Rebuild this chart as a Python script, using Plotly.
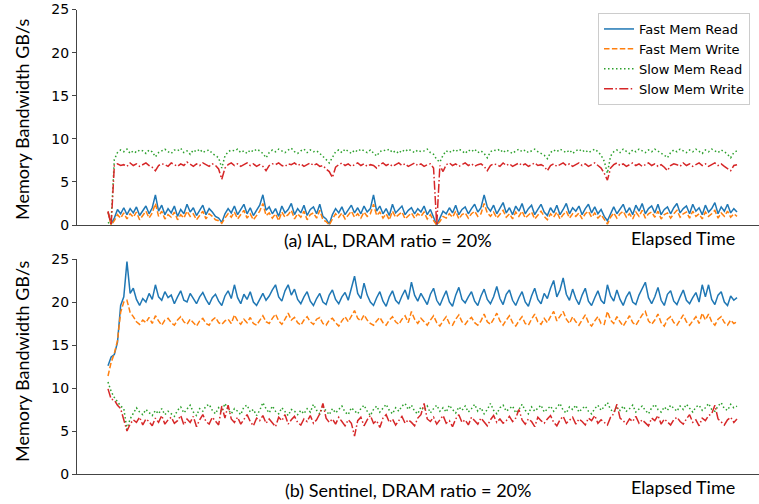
import plotly.graph_objects as go

# ---------------- data ----------------
series_names = ["Fast Mem Read", "Fast Mem Write", "Slow Mem Read", "Slow Mem Write"]
y_ticks = [0, 5, 10, 15, 20, 25]
top_label = "(a) IAL, DRAM ratio = 20%"
bottom_label = "(b) Sentinel, DRAM ratio = 20%"
x_label = "Elapsed Time"
y_label = "Memory Bandwidth GB/s"

# (a) IAL
ial_fast_read = [
    1.5, 0.1, 0.8, 1.8, 1.3, 2.0, 1.2, 1.9, 1.4, 2.1, 1.1, 1.7, 2.2, 1.3, 2.0, 3.5, 1.6, 2.3, 1.2, 1.9,
    1.4, 2.2, 1.0, 1.8, 1.3, 2.4, 1.5, 2.0, 1.1, 1.7, 2.3, 1.2, 1.9, 1.5, 1.0, 0.8, 0.3, 1.3, 1.9, 1.4,
    2.2, 1.2, 1.8, 2.4, 1.3, 2.0, 1.1, 1.7, 2.3, 3.5, 1.7, 2.1, 1.3, 1.9, 1.0, 2.2, 1.4, 1.8, 2.5, 1.2,
    1.9, 1.4, 2.3, 1.1, 1.8, 2.1, 1.3, 2.4, 1.0, 0.7, 0.1, 1.2, 1.9, 1.4, 2.1, 1.2, 1.8, 2.3, 1.4, 2.0,
    1.3, 2.2, 1.5, 1.9, 3.5, 1.6, 2.2, 1.3, 1.9, 1.1, 2.4, 1.4, 1.8, 2.2, 1.2, 1.7, 2.0, 1.3, 1.9, 1.5,
    2.2, 1.2, 1.8, 0.9, 0.0, 0.8, 1.6, 1.3, 2.0, 1.4, 2.3, 1.2, 1.8, 2.1, 1.3, 1.9, 2.4, 1.5, 2.0, 3.5,
    2.1, 1.6, 2.3, 1.3, 1.9, 2.6, 1.4, 2.0, 1.2, 2.2, 1.6, 2.5, 1.3, 1.9, 2.3, 1.2, 1.8, 2.4, 1.5, 1.1,
    2.0, 1.4, 2.3, 1.2, 1.8, 2.5, 1.3, 2.0, 1.6, 2.2, 1.2, 1.9, 2.4, 1.4, 2.1, 1.3, 1.8, 1.0, 0.5, 1.4,
    2.1, 1.3, 1.9, 2.4, 1.4, 2.0, 1.2, 2.3, 1.6, 2.5, 1.3, 1.9, 2.2, 1.4, 2.4, 1.2, 1.8, 2.1, 1.3, 2.0,
    2.5, 1.4, 1.9, 2.2, 1.3, 2.4, 1.6, 2.0, 1.2, 2.3, 1.5, 1.9, 2.6, 1.3, 2.1, 1.6, 2.4, 1.4, 1.9, 1.5,
]
ial_fast_write = [
    1.5, 0.0, 0.5, 1.2, 0.8, 1.4, 0.7, 1.3, 0.9, 1.5, 0.6, 1.1, 1.6, 0.8, 1.4, 2.5, 1.0, 1.6, 0.7, 1.2,
    0.9, 1.5, 0.6, 1.2, 0.8, 1.6, 1.0, 1.3, 0.6, 1.1, 1.6, 0.7, 1.3, 1.0, 0.6, 0.5, 0.2, 0.8, 1.3, 0.9,
    1.5, 0.7, 1.2, 1.7, 0.8, 1.3, 0.6, 1.1, 1.6, 2.5, 1.1, 1.4, 0.8, 1.3, 0.5, 1.5, 0.9, 1.2, 1.7, 0.7,
    1.3, 0.9, 1.6, 0.6, 1.2, 1.4, 0.8, 1.7, 0.6, 0.4, 0.0, 0.7, 1.3, 0.9, 1.4, 0.7, 1.2, 1.6, 0.9, 1.3,
    0.8, 1.5, 1.0, 1.3, 2.4, 1.1, 1.5, 0.8, 1.3, 0.6, 1.6, 0.9, 1.2, 1.5, 0.7, 1.1, 1.4, 0.8, 1.3, 1.0,
    1.5, 0.7, 1.2, 0.5, 0.0, 0.4, 1.0, 0.8, 1.3, 0.9, 1.6, 0.7, 1.2, 1.4, 0.8, 1.3, 1.6, 1.0, 1.3, 2.5,
    1.4, 1.0, 1.5, 0.8, 1.3, 1.7, 0.9, 1.3, 0.7, 1.5, 1.0, 1.6, 0.8, 1.2, 1.5, 0.7, 1.2, 1.6, 1.0, 0.6,
    1.3, 0.9, 1.5, 0.7, 1.2, 1.6, 0.8, 1.3, 1.0, 1.4, 0.7, 1.3, 1.6, 0.9, 1.4, 0.8, 1.2, 0.6, 0.1, 0.9,
    1.4, 0.8, 1.3, 1.6, 0.9, 1.3, 0.7, 1.5, 1.0, 1.7, 0.8, 1.3, 1.5, 0.9, 1.6, 0.7, 1.2, 1.4, 0.8, 1.3,
    1.7, 0.9, 1.3, 1.5, 0.8, 1.6, 1.0, 1.3, 0.7, 1.5, 1.0, 1.3, 1.7, 0.8, 1.4, 1.0, 1.6, 0.9, 1.3, 1.0,
]
ial_slow_read = [
    0.2, 0.5, 7.6, 8.4, 8.7, 8.5, 8.8, 8.3, 8.6, 8.4, 8.7, 8.6, 8.3, 8.7, 8.5, 7.9, 8.4, 8.6, 8.8, 8.5,
    8.3, 8.7, 8.6, 8.9, 8.4, 8.6, 8.2, 8.7, 8.5, 8.8, 8.4, 8.6, 8.7, 8.3, 8.1, 7.8, 6.6, 8.0, 8.5, 8.7,
    8.6, 8.8, 8.4, 8.6, 8.3, 8.7, 8.5, 8.8, 8.6, 8.3, 7.8, 8.4, 8.7, 8.5, 8.8, 8.6, 8.4, 8.7, 8.9, 8.5,
    8.3, 8.6, 8.8, 8.4, 8.7, 8.5, 8.6, 8.3, 8.0, 7.6, 7.2, 7.9, 8.5, 8.7, 8.4, 8.8, 8.6, 8.3, 8.7, 8.5,
    8.8, 8.6, 8.4, 8.7, 8.3, 8.0, 8.5, 8.7, 8.6, 8.8, 8.4, 8.6, 8.3, 8.7, 8.5, 8.8, 8.6, 8.4, 8.7, 8.5,
    8.6, 8.8, 8.4, 8.2, 7.6, 7.3, 8.1, 8.6, 8.4, 8.7, 8.5, 8.8, 8.6, 8.3, 8.7, 8.5, 8.8, 8.4, 8.6, 8.3,
    7.8, 8.5, 8.7, 8.6, 8.8, 8.4, 8.7, 8.5, 8.3, 8.6, 8.8, 8.5, 8.7, 8.4, 8.6, 8.8, 8.5, 8.3, 8.1, 7.7,
    8.4, 8.7, 8.5, 8.8, 8.6, 8.4, 8.7, 8.3, 8.6, 8.8, 8.5, 8.7, 8.4, 8.6, 8.8, 8.5, 8.1, 7.4, 6.0, 8.0,
    8.5, 8.7, 8.4, 8.8, 8.6, 8.3, 8.7, 8.5, 8.8, 8.6, 8.4, 8.7, 8.5, 8.8, 8.6, 8.3, 8.1, 7.8, 8.4, 8.7,
    8.5, 8.8, 8.6, 8.4, 8.7, 8.5, 8.8, 8.6, 8.3, 8.7, 8.5, 8.8, 8.6, 8.4, 8.7, 8.5, 8.2, 7.8, 8.4, 8.6,
]
ial_slow_write = [
    1.6, 0.0, 6.9, 7.1, 6.9, 7.0, 6.8, 7.2, 6.9, 7.1, 6.8, 7.0, 7.2, 6.9, 6.7, 6.3, 6.9, 7.1, 7.0, 6.8,
    7.2, 7.0, 6.8, 7.1, 6.9, 7.3, 7.0, 6.8, 7.1, 6.9, 7.2, 7.0, 6.8, 7.1, 6.9, 6.5, 5.3, 6.6, 7.0, 7.2,
    6.9, 7.1, 6.8, 7.0, 7.2, 6.9, 7.1, 6.8, 7.0, 6.8, 6.3, 6.9, 7.1, 7.0, 7.2, 6.9, 6.8, 7.1, 7.0, 7.2,
    6.9, 7.1, 6.8, 7.0, 7.2, 6.9, 7.1, 6.8, 6.9, 6.5, 6.2, 5.5, 6.7, 7.0, 7.2, 6.9, 7.1, 6.8, 7.0, 7.2,
    6.9, 7.1, 6.8, 7.0, 6.9, 6.6, 7.0, 7.2, 6.9, 7.1, 6.8, 7.0, 7.2, 6.9, 7.1, 6.8, 7.0, 7.2, 6.9, 7.1,
    6.8, 7.0, 7.1, 6.6, 0.0, 6.9, 6.2, 7.0, 7.2, 6.9, 7.1, 6.8, 7.0, 7.2, 6.9, 7.1, 6.8, 7.0, 7.1, 6.8,
    6.3, 6.9, 7.1, 7.0, 6.8, 7.2, 6.9, 7.1, 6.8, 7.0, 7.2, 6.9, 7.1, 6.8, 7.0, 7.2, 6.9, 7.0, 6.8, 6.3,
    6.9, 7.1, 6.8, 7.0, 7.2, 6.9, 7.1, 6.8, 7.0, 7.2, 6.9, 7.1, 6.8, 7.0, 7.2, 6.9, 6.6, 6.0, 5.2, 6.6,
    7.0, 7.2, 6.9, 7.1, 6.8, 7.0, 7.2, 6.9, 7.1, 6.8, 7.0, 7.2, 6.9, 7.1, 6.8, 7.0, 6.7, 6.3, 6.9, 7.1,
    7.0, 6.8, 7.2, 6.9, 7.1, 6.8, 7.0, 7.2, 6.9, 7.1, 6.8, 7.0, 7.2, 6.9, 7.1, 6.8, 6.6, 6.3, 6.9, 7.0,
]

# (b) Sentinel
sen_fast_read = [
    12.6, 13.6, 13.9, 15.3, 19.6, 20.6, 24.7, 21.0, 21.6, 20.3, 19.6, 20.4, 20.0, 21.0, 20.3, 22.0, 20.6, 20.2, 21.2, 20.5,
    20.8, 19.8, 20.6, 21.3, 20.2, 20.0, 21.0, 20.4, 19.8, 20.6, 21.1, 20.3, 19.7, 20.5, 20.9, 20.1, 19.6, 20.7, 21.3, 20.4,
    22.0, 20.5, 19.8, 20.9, 20.3, 21.2, 20.0, 19.6, 20.4, 21.0, 20.2, 20.7, 21.4, 22.0, 20.6, 20.1, 21.3, 22.0, 20.8, 21.5,
    20.3, 19.8, 20.6, 21.2, 20.1, 19.6, 20.4, 21.0, 20.0, 19.7, 20.8, 21.4, 20.3, 19.8, 20.6, 21.1, 20.2, 21.5, 23.0, 21.0,
    20.4, 22.2, 20.8, 20.0, 19.6, 20.5, 21.2, 20.1, 19.5, 20.6, 21.3, 20.2, 19.8, 20.7, 21.4, 20.3, 22.3, 20.8, 20.1, 21.0,
    20.4, 19.7, 20.9, 21.6, 20.2, 19.6, 20.5, 21.3, 20.0, 19.5, 20.8, 21.7, 20.3, 19.9, 20.6, 21.2, 20.1, 19.6, 20.7, 21.5,
    20.3, 19.8, 20.6, 21.8, 20.4, 19.7, 20.9, 21.4, 20.2, 19.6, 20.5, 21.2, 20.0, 19.5, 20.7, 21.6, 20.3, 19.8, 21.0, 20.4,
    21.6, 22.5, 20.6, 21.4, 22.8, 20.9, 20.2, 21.5, 20.4, 19.7, 20.8, 21.6, 20.1, 19.6, 20.5, 21.3, 20.2, 19.8, 22.0, 20.7,
    20.1, 21.4, 20.3, 19.6, 20.6, 21.2, 20.0, 19.7, 20.8, 21.5, 22.3, 20.5, 19.8, 20.6, 21.7, 20.2, 19.6, 20.9, 21.3, 20.1,
    19.7, 20.6, 21.4, 20.2, 19.8, 20.5, 21.1, 20.0, 22.0, 20.6, 22.0, 20.3, 19.7, 20.8, 21.2, 20.0, 19.6, 20.7, 20.2, 20.5,
]
sen_fast_write = [
    11.4, 13.0, 14.0, 15.5, 18.8, 20.0, 20.2, 18.8, 18.3, 17.7, 17.4, 17.9, 17.6, 18.2, 17.5, 18.4, 17.8, 17.3, 17.9, 18.1,
    17.6, 17.3, 17.9, 18.3, 17.7, 17.4, 18.0, 17.6, 17.2, 17.8, 18.1, 17.5, 17.3, 17.9, 18.2, 17.6, 17.4, 17.8, 18.0, 17.5,
    18.5, 17.8, 17.4, 18.0, 17.6, 18.2, 17.5, 17.3, 17.9, 18.4, 17.7, 17.5, 18.1, 18.6, 17.8, 17.4, 18.0, 18.7, 17.9, 18.2,
    17.6, 17.3, 17.9, 18.3, 17.7, 17.4, 18.0, 18.2, 17.5, 17.3, 17.9, 18.1, 17.6, 17.2, 17.8, 18.3, 17.7, 18.4, 19.0, 18.1,
    17.8, 18.5, 17.9, 17.5, 17.3, 17.8, 18.2, 17.6, 17.3, 17.9, 18.3, 17.7, 17.4, 18.0, 18.4, 17.6, 18.9, 18.0, 17.5, 18.1,
    17.7, 17.3, 17.9, 18.4, 17.6, 17.2, 17.8, 18.3, 17.5, 17.3, 18.0, 18.5, 17.7, 17.4, 17.9, 18.2, 17.6, 17.3, 17.8, 18.6,
    17.7, 17.4, 18.0, 18.7, 17.8, 17.3, 17.9, 18.4, 17.6, 17.2, 17.8, 18.3, 17.5, 17.3, 18.0, 18.6, 17.7, 17.4, 18.1, 17.6,
    18.3, 18.9, 17.8, 18.4, 18.9, 18.0, 17.5, 18.3, 17.7, 17.3, 17.9, 18.5, 17.6, 17.2, 17.8, 18.3, 17.5, 17.4, 18.9, 17.9,
    17.5, 18.3, 17.7, 17.2, 17.8, 18.4, 17.6, 17.3, 17.9, 18.5, 18.9, 17.8, 17.4, 17.9, 18.6, 17.6, 17.2, 18.0, 18.3, 17.6,
    17.3, 17.9, 18.5, 17.7, 17.3, 17.8, 18.3, 17.5, 18.7, 17.9, 18.6, 17.7, 17.3, 18.0, 18.3, 17.6, 17.3, 17.9, 17.5, 17.7,
]
sen_slow_read = [
    10.7, 9.6, 8.9, 8.4, 7.9, 7.6, 5.2, 6.4, 7.1, 7.7, 7.2, 6.9, 7.5, 7.1, 6.8, 7.4, 7.0, 7.6, 6.9, 7.3,
    7.0, 6.7, 7.4, 7.8, 7.1, 7.5, 8.0, 7.2, 6.8, 7.6, 7.3, 7.9, 8.1, 7.4, 7.0, 7.7, 7.2, 8.2, 7.5, 7.0,
    7.6, 7.3, 6.9, 7.8, 8.0, 7.2, 7.5, 6.8, 7.4, 8.3, 7.6, 7.1, 7.9, 7.3, 7.0, 7.7, 7.2, 6.8, 7.5, 7.3,
    6.9, 7.4, 7.0, 7.6, 7.2, 8.1, 7.4, 7.0, 7.8, 7.3, 6.9, 7.6, 7.1, 7.5, 7.9, 7.2, 6.9, 7.7, 7.4, 7.0,
    7.6, 8.0, 7.3, 6.8, 7.5, 7.9, 7.2, 7.6, 8.1, 7.4, 7.0, 7.7, 7.3, 7.9, 8.2, 7.5, 8.0, 7.3, 7.0, 7.8,
    7.4, 7.9, 7.1, 7.6, 8.0, 7.3, 7.7, 7.2, 8.0, 7.5, 7.1, 7.8, 7.4, 7.9, 7.2, 7.6, 8.1, 7.3, 7.7, 7.0,
    7.5, 8.2, 7.4, 7.0, 7.7, 8.0, 7.3, 7.6, 7.9, 7.1, 7.5, 8.1, 7.4, 7.0, 7.8, 7.3, 7.6, 8.0, 7.2, 7.5,
    7.9, 7.3, 7.7, 8.2, 7.4, 7.1, 7.8, 7.5, 8.0, 7.2, 7.6, 7.9, 7.3, 7.0, 7.6, 8.0, 7.4, 7.8, 8.3, 7.5,
    7.2, 7.7, 7.4, 7.9, 7.3, 7.6, 8.0, 7.2, 7.5, 7.9, 7.4, 7.0, 7.7, 8.1, 7.5, 7.2, 7.8, 7.4, 8.0, 7.6,
    7.3, 7.9, 7.5, 8.1, 7.6, 7.2, 7.8, 8.0, 7.4, 7.7, 8.2, 7.5, 7.3, 7.9, 8.3, 7.6, 7.4, 8.1, 7.7, 7.9,
]
sen_slow_write = [
    9.9, 8.7, 8.6, 8.0, 7.6, 6.4, 5.0, 5.8, 6.3, 6.0, 6.6, 5.7, 6.4, 6.1, 5.6, 6.5, 6.0, 6.8, 5.8, 6.3,
    6.6, 5.9, 6.2, 6.8, 5.7, 6.4, 6.0, 6.7, 5.5, 6.3, 6.9, 6.1, 5.8, 6.6, 6.2, 5.7, 7.9, 6.5, 8.0, 6.4,
    6.0, 6.6, 5.8, 6.3, 6.9, 6.1, 5.6, 6.5, 6.2, 6.8, 5.9, 6.4, 6.0, 5.5, 6.6, 6.2, 6.9, 5.8, 6.3, 6.7,
    6.0, 5.7, 6.4, 6.1, 6.8, 5.9, 6.3, 7.0, 8.2, 6.5, 6.0, 6.4, 5.8, 6.6, 6.1, 5.6, 6.3, 5.9, 4.4, 6.2,
    6.6, 5.6, 6.3, 6.8, 5.9, 6.2, 5.4, 6.5, 6.9, 6.0, 6.4, 5.7, 6.2, 6.7, 5.9, 6.3, 6.0, 5.6, 6.5, 6.9,
    8.2, 6.4, 6.1, 6.6, 5.8, 6.3, 6.8, 5.9, 6.2, 5.5, 6.4, 6.9, 6.0, 6.3, 5.7, 6.6, 6.2, 5.8, 6.5, 6.1,
    5.6, 6.3, 6.8, 6.0, 6.4, 5.9, 6.2, 6.7, 6.1, 6.5, 7.5, 6.3, 5.8, 6.4, 6.1, 5.5, 6.6, 6.2, 5.9, 6.4,
    6.8, 6.0, 5.6, 6.3, 6.7, 5.9, 6.2, 6.6, 5.8, 6.4, 6.1, 5.7, 6.5, 6.2, 6.8, 5.9, 6.3, 6.0, 5.7, 6.6,
    7.0, 8.1, 6.5, 6.2, 5.8, 6.4, 6.1, 6.7, 5.9, 6.3, 6.0, 5.6, 6.5, 6.2, 6.8, 5.8, 6.4, 6.0, 5.7, 6.3,
    6.6, 6.1, 5.8, 6.4, 6.9, 6.0, 6.3, 5.6, 6.5, 6.2, 6.8, 7.0, 8.0, 6.4, 6.1, 5.7, 6.3, 6.6, 6.0, 6.4,
]

# ---------------- styling ----------------
colors = ["#1f77b4", "#ff7f0e", "#2ca02c", "#d62728"]
dashes = ["solid", "5.5px,2.4px", "1.5px,2.5px", "9px,2.4px,1.5px,2.4px"]
W, H = 759, 504
L = 77
CAL = "Lato, 'Liberation Sans', sans-serif"
DJ = "'DejaVu Sans', sans-serif"

fig = go.Figure()
top = [ial_fast_read, ial_fast_write, ial_slow_read, ial_slow_write]
bot = [sen_fast_read, sen_fast_write, sen_slow_read, sen_slow_write]
for k, ys in enumerate(top):
    fig.add_trace(go.Scatter(x=list(range(len(ys))), y=ys, mode="lines", name=series_names[k],
                             line=dict(color=colors[k], width=1.5, dash=dashes[k]),
                             xaxis="x", yaxis="y", showlegend=True))
for k, ys in enumerate(bot):
    fig.add_trace(go.Scatter(x=list(range(len(ys))), y=ys, mode="lines", name=series_names[k],
                             line=dict(color=colors[k], width=1.5, dash=dashes[k]),
                             xaxis="x2", yaxis="y2", showlegend=False))

n = len(ial_fast_read)
ppu = (737 - 108) / (n - 1)
xr = [-(108 - L) / ppu, (n - 1) + (W - 737) / ppu]

def ydom(top_px, bot_px):
    return [(H - bot_px) / H, (H - top_px) / H]

axis_common = dict(showline=True, linecolor="#444444", linewidth=1.3, mirror=False,
                   showgrid=False, zeroline=False, automargin=False)
yax_common = dict(axis_common, range=[0, 25], tickvals=y_ticks, ticks="outside", ticklen=4,
                  tickwidth=1.2, tickcolor="#444444",
                  tickfont=dict(family=DJ, size=14, color="#000000"))
xax_common = dict(axis_common, range=xr, showticklabels=False, ticks="")

fig.update_layout(
    width=W, height=H, autosize=False,
    margin=dict(l=L, r=0, t=0, b=0, pad=0, autoexpand=False),
    plot_bgcolor="white", paper_bgcolor="white",
    xaxis=dict(xax_common, domain=[0, 1], anchor="y"),
    yaxis=dict(yax_common, domain=ydom(9.5, 225), anchor="x"),
    xaxis2=dict(xax_common, domain=[0, 1], anchor="y2"),
    yaxis2=dict(yax_common, domain=ydom(259, 474), anchor="x2"),
    legend=dict(x=(598 - L) / (W - L), y=(H - 13) / H, xanchor="left", yanchor="top",
                bgcolor="white", bordercolor="#cccccc", borderwidth=1,
                font=dict(family=DJ, size=13, color="#000000"),
                tracegroupgap=0, itemwidth=30),
    showlegend=True,
)

def px_x(px):
    return (px - L) / (W - L)

def px_y(py):
    return (H - py) / H

ann = [
    dict(text=top_label, x=px_x(388), y=px_y(240), xanchor="center", yanchor="middle"),
    dict(text=x_label, x=px_x(737), y=px_y(238), xanchor="right", yanchor="middle"),
    dict(text=bottom_label, x=px_x(408), y=px_y(490), xanchor="center", yanchor="middle"),
    dict(text=x_label, x=px_x(737), y=px_y(487), xanchor="right", yanchor="middle"),
    dict(text=y_label, x=px_x(22), y=px_y(120), xanchor="center", yanchor="middle", textangle=-90),
    dict(text=y_label, x=px_x(22), y=px_y(362), xanchor="center", yanchor="middle", textangle=-90),
]
for a in ann:
    fig.add_annotation(xref="paper", yref="paper", showarrow=False,
                       font=dict(family=CAL, size=18, color="#000000"), **a)

fig.write_html("out.html",
               config={"displayModeBar": False},
               post_script="document.body.style.margin='0';document.body.style.overflow='hidden';")
